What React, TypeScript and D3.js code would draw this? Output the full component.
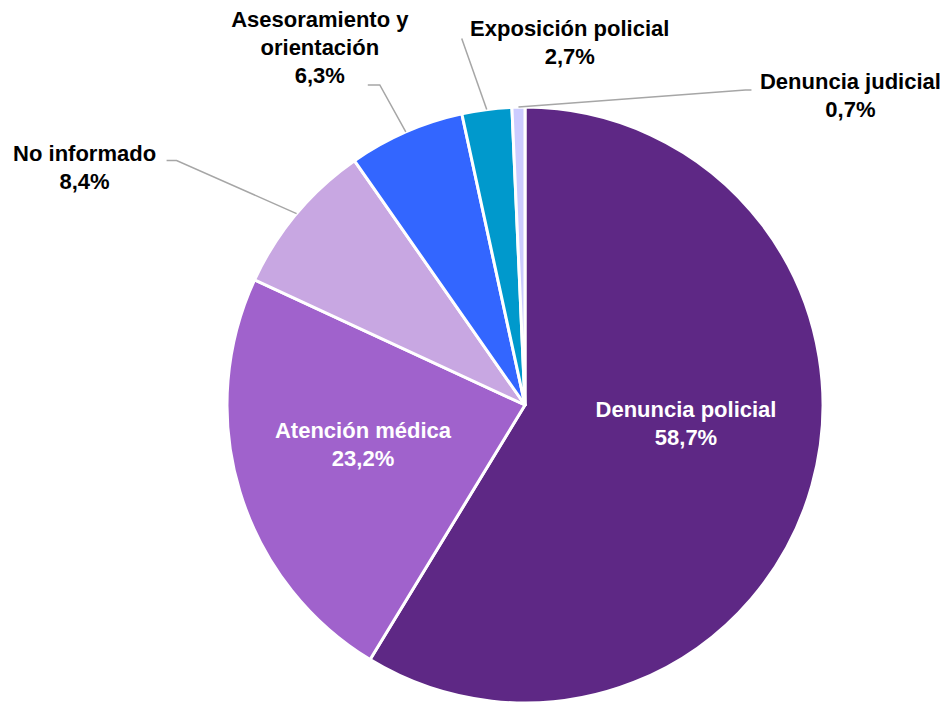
import React, { useRef, useEffect } from 'react';
import * as d3 from 'd3';

// categories, clockwise from 12 o'clock
const categories = [
    'Denuncia policial',
    'Atención médica',
    'No informado',
    'Asesoramiento y orientación',
    'Exposición policial',
    'Denuncia judicial',
];
const values = [58.7, 23.2, 8.4, 6.3, 2.7, 0.7];
const colors = ['#5E2885', '#A062CC', '#C8A7E2', '#3366FF', '#0099CC', '#CCCCFF'];
// label text lines per slice
const labelLines = [
    ['Denuncia policial'],
    ['Atención médica'],
    ['No informado'],
    ['Asesoramiento y', 'orientación'],
    ['Exposición policial'],
    ['Denuncia judicial'],
];

const width = 948;
const height = 702;
const cx = 525;
const cy = 405;
const radius = 298;

// inside labels: centre offset from pie centre
const inside: Record<number, [number, number]> = {
    0: [161, 18],
    1: [-162, 39],
};
// outside labels: leader elbow / end and label centre, relative to slice mid point on the arc
const outside: Record<number, { elbow: [number, number]; end: [number, number]; text: [number, number]; }> = {
    2: { elbow: [-120, -53], end: [-130, -53], text: [-212, -47] },
    3: { elbow: [-26, -47], end: [-38, -47], text: [-86, -85] },
    4: { elbow: [-25, -71], end: [-25, -71], text: [83, -67] },
    5: { elbow: [227, -17], end: [233, -17], text: [332, -12] },
};

const fmt = (v: number) => v.toFixed(1).replace('.', ',') + '%';

const App: React.FC = () => {
    const ref = useRef<SVGSVGElement>(null);

    useEffect(() => {
        if (!ref.current) return;
        const svg = d3.select(ref.current);
        svg.selectAll('*').remove();

        const pie = d3.pie<number>().sort(null).value(d => d);
        const arcs = pie(values);
        const arc = d3.arc<d3.PieArcDatum<number>>().innerRadius(0).outerRadius(radius);

        const g = svg.append('g').attr('transform', `translate(${cx},${cy})`);

        g.selectAll('path.slice')
            .data(arcs)
            .enter()
            .append('path')
            .attr('class', 'slice')
            .attr('d', arc)
            .attr('fill', (d, i) => colors[i])
            .attr('stroke', '#ffffff')
            .attr('stroke-width', 3)
            .attr('stroke-linejoin', 'round');

        const font = "'Liberation Sans', Arial, sans-serif";

        arcs.forEach((a, i) => {
            const mid = (a.startAngle + a.endAngle) / 2;
            const px = radius * Math.sin(mid);
            const py = -radius * Math.cos(mid);
            const lines = [...labelLines[i], fmt(values[i])];

            let tx: number, ty: number, fill: string;
            if (outside[i]) {
                const o = outside[i];
                g.append('polyline')
                    .attr('points', [[px, py], [px + o.elbow[0], py + o.elbow[1]], [px + o.end[0], py + o.end[1]]].map(p => p.join(',')).join(' '))
                    .attr('fill', 'none')
                    .attr('stroke', '#A6A6A6')
                    .attr('stroke-width', 1.5);
                tx = px + o.text[0];
                ty = py + o.text[1];
                fill = '#000000';
            } else {
                tx = inside[i][0];
                ty = inside[i][1];
                fill = '#ffffff';
            }
            const lh = 28;
            const t = g.append('text')
                .attr('text-anchor', 'middle')
                .attr('font-family', font)
                .attr('font-weight', 'bold')
                .attr('font-size', 22)
                .attr('fill', fill);
            lines.forEach((l, k) => {
                t.append('tspan')
                    .attr('x', tx)
                    .attr('y', ty + (k - (lines.length - 1) / 2) * lh + 8)
                    .text(l);
            });
        });
    }, []);

    return (
        <svg ref={ref} width={width} height={height}
            style={{ position: 'absolute', left: 0, top: 0, background: '#ffffff' }} />
    );
};

export default App;
